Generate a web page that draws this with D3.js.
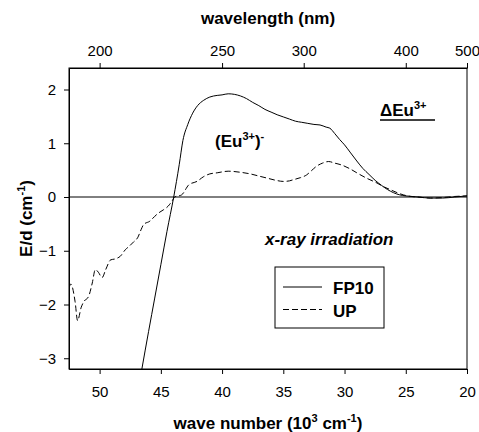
<!DOCTYPE html>
<html>
<head>
<meta charset="utf-8">
<script src="https://cdn.jsdelivr.net/npm/d3@7"></script>
<style>
  body{margin:0;background:#fff;}
  text{font-family:Arial,"Liberation Sans",sans-serif;fill:#000;}
  .axis text{font-size:15px;}
  .axis path,.axis line{stroke:#000;stroke-width:1px;}
  .title{font-size:17px;font-weight:bold;}
</style>
</head>
<body>
<div id="chart"></div>
<script>
// FP10 sample (solid): wave number (10^3 cm^-1) and E/d (cm^-1)
const fp10Wn=[46.55,46.0,45.5,45.0,44.5,43.95,43.5,43.2,42.8,42.4,42.0,41.5,41.0,40.4,40.0,39.5,39.0,38.5,38.0,37.5,37.0,36.5,36.0,35.5,35.0,34.5,34.0,33.5,33.0,32.5,32.0,31.5,31.2,30.8,30.4,30.0,29.5,29.0,28.5,28.0,27.5,27.0,26.5,26.0,25.5,25.0,24.5,24.0,23.0,22.0,21.0,20.0];
const fp10Val=[-3.2,-2.5,-1.88,-1.26,-0.64,0.0,0.6,1.05,1.35,1.56,1.70,1.80,1.86,1.89,1.90,1.92,1.91,1.88,1.83,1.76,1.70,1.63,1.58,1.53,1.49,1.45,1.41,1.39,1.37,1.35,1.34,1.30,1.28,1.18,1.07,0.97,0.82,0.67,0.53,0.42,0.31,0.22,0.14,0.08,0.04,0.02,0.01,0.0,-0.02,-0.02,0.0,0.02];
// UP sample (dashed)
const upWn=[52.5,52.35,52.0,51.8,51.5,51.3,50.9,50.6,50.35,50.1,49.8,49.5,49.1,48.7,48.3,47.9,47.6,47.2,46.9,46.6,46.4,45.9,45.5,45.2,44.8,44.4,44.1,43.86,43.3,42.7,42.05,41.5,41.0,40.4,39.5,38.5,37.7,37.0,36.3,35.6,35.0,34.5,34.2,33.6,33.1,32.7,32.3,31.8,31.3,30.8,30.3,29.6,29.0,28.2,27.35,26.8,26.3,25.7,25.2,24.6,24.0,23.0,22.0,21.0,20.0];
const upVal=[-1.70,-1.62,-1.95,-2.30,-2.05,-1.95,-1.85,-1.60,-1.35,-1.40,-1.50,-1.35,-1.17,-1.15,-1.10,-0.98,-0.92,-0.83,-0.76,-0.60,-0.51,-0.45,-0.36,-0.30,-0.24,-0.17,-0.08,0.0,0.04,0.23,0.29,0.38,0.43,0.45,0.48,0.46,0.43,0.39,0.35,0.31,0.29,0.30,0.32,0.36,0.41,0.49,0.57,0.63,0.66,0.63,0.60,0.53,0.45,0.35,0.26,0.19,0.14,0.08,0.04,0.01,0.0,-0.02,-0.01,0.01,0.02];

const waveTicks=[50,45,40,35,30,25,20];
const nmTicks=[200,250,300,400,500];
const yTicks=[-3,-2,-1,0,1,2];
const seriesNames=[`FP10`,`UP`];

const W=479,H=432;
const margin={left:69,right:12,top:68,bottom:63};
const width=W-margin.left-margin.right, height=H-margin.top-margin.bottom;

const svg=d3.select(`#chart`).append(`svg`).attr(`width`,W).attr(`height`,H);
const g=svg.append(`g`).attr(`transform`,`translate(${margin.left},${margin.top})`);

const x=d3.scaleLinear().domain([52.5,20]).range([0,width]);
const y=d3.scaleLinear().domain([-3.2,2.4]).range([height,0]);

g.append(`clipPath`).attr(`id`,`clip`).append(`rect`).attr(`width`,width).attr(`height`,height);

// frame
g.append(`rect`).attr(`width`,width).attr(`height`,height)
  .attr(`fill`,`none`).attr(`stroke`,`#000`).attr(`stroke-width`,1);

// axes
g.append(`g`).attr(`class`,`axis`).attr(`transform`,`translate(0,${height})`)
  .call(d3.axisBottom(x).tickValues(waveTicks).tickSize(5).tickPadding(12).tickSizeOuter(0));
g.append(`g`).attr(`class`,`axis`)
  .call(d3.axisLeft(y).tickValues(yTicks).tickFormat(d3.format(`d`)).tickSize(5).tickPadding(8).tickSizeOuter(0));
g.append(`g`).attr(`class`,`axis`)
  .call(d3.axisTop(x).tickValues(nmTicks.map(n=>1e4/n)).tickFormat((d,i)=>nmTicks[i]).tickSize(5).tickPadding(7).tickSizeOuter(0));

// zero line
g.append(`line`).attr(`x1`,0).attr(`x2`,width).attr(`y1`,y(0)).attr(`y2`,y(0))
  .attr(`stroke`,`#000`).attr(`stroke-width`,1);

const line=d3.line().x(d=>x(d[0])).y(d=>y(d[1])).curve(d3.curveMonotoneX);
const curves=g.append(`g`).attr(`clip-path`,`url(#clip)`);
curves.append(`path`).datum(fp10Wn.map((w,i)=>[w,fp10Val[i]]))
  .attr(`d`,line).attr(`fill`,`none`).attr(`stroke`,`#000`).attr(`stroke-width`,1);
curves.append(`path`).datum(upWn.map((w,i)=>[w,upVal[i]]))
  .attr(`d`,line).attr(`fill`,`none`).attr(`stroke`,`#000`).attr(`stroke-width`,1)
  .attr(`stroke-dasharray`,`6,3`);

// titles
svg.append(`text`).attr(`class`,`title`).attr(`x`,margin.left+width/2).attr(`y`,24)
  .attr(`text-anchor`,`middle`).text(`wavelength (nm)`);

const xt=svg.append(`text`).attr(`class`,`title`).attr(`x`,margin.left+width/2).attr(`y`,429)
  .attr(`text-anchor`,`middle`);
xt.append(`tspan`).text(`wave number (10`);
xt.append(`tspan`).attr(`dy`,-7).attr(`font-size`,11).text(`3`);
xt.append(`tspan`).attr(`dy`,7).text(` cm`);
xt.append(`tspan`).attr(`dy`,-7).attr(`font-size`,11).text(`-1`);
xt.append(`tspan`).attr(`dy`,7).text(`)`);

const yt=svg.append(`text`).attr(`class`,`title`)
  .attr(`transform`,`translate(32,${margin.top+height/2}) rotate(-90)`).attr(`text-anchor`,`middle`);
yt.append(`tspan`).text(`E/d (cm`);
yt.append(`tspan`).attr(`dy`,-7).attr(`font-size`,11).text(`-1`);
yt.append(`tspan`).attr(`dy`,7).text(`)`);

// annotations
const a1=svg.append(`text`).attr(`class`,`title`).attr(`x`,215).attr(`y`,147);
a1.append(`tspan`).text(`(Eu`);
a1.append(`tspan`).attr(`dy`,-7).attr(`font-size`,11).text(`3+`);
a1.append(`tspan`).attr(`dy`,7).text(`)`);
a1.append(`tspan`).attr(`dy`,-7).attr(`font-size`,11).text(`-`);

const a2=svg.append(`text`).attr(`class`,`title`).attr(`x`,380).attr(`y`,116);
a2.append(`tspan`).text(`ΔEu`);
a2.append(`tspan`).attr(`dy`,-7).attr(`font-size`,11).text(`3+`);
svg.append(`line`).attr(`x1`,380).attr(`x2`,435).attr(`y1`,120).attr(`y2`,120)
  .attr(`stroke`,`#000`).attr(`stroke-width`,1.5);

svg.append(`text`).attr(`class`,`title`).attr(`x`,265).attr(`y`,245)
  .attr(`font-style`,`italic`).text(`x-ray irradiation`);

// legend
const lg=svg.append(`g`).attr(`transform`,`translate(275,267)`);
lg.append(`rect`).attr(`width`,109).attr(`height`,61).attr(`fill`,`#fff`).attr(`stroke`,`#000`);
seriesNames.forEach((s,i)=>{
  const yy=20+i*22.5;
  lg.append(`line`).attr(`x1`,8).attr(`x2`,47).attr(`y1`,yy).attr(`y2`,yy)
    .attr(`stroke`,`#000`).attr(`stroke-dasharray`,i?`6,3`:null);
  lg.append(`text`).attr(`class`,`title`).attr(`x`,58).attr(`y`,yy+7).text(s);
});
</script>
</body>
</html>
